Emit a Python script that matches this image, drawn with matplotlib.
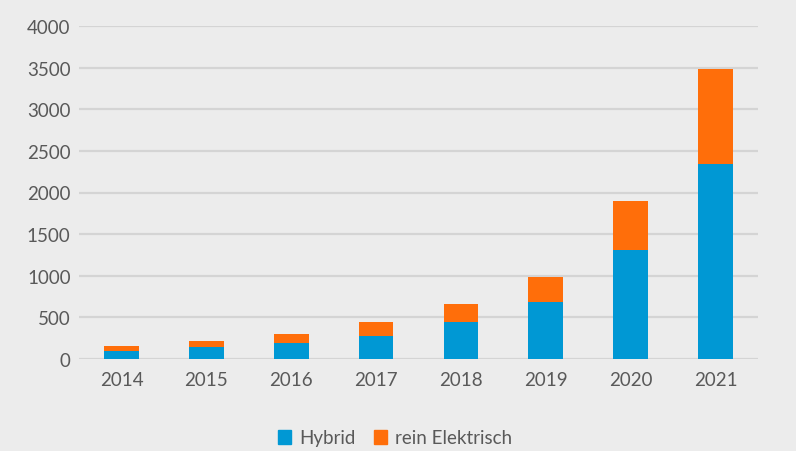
import matplotlib.pyplot as plt
from matplotlib.patches import Patch
import numpy as np

years = ['2014', '2015', '2016', '2017', '2018', '2019', '2020', '2021']
hybrid = [96, 148, 196, 273, 441, 681, 1311, 2338]
elektrisch = [60, 68, 108, 168, 216, 301, 590, 1150]

plt.rcParams['font.family'] = ['Lato', 'DejaVu Sans']

bg = '#ececec'
blue = '#0098d4'
orange = '#ff6e0a'
grid = '#d4d4d4'
txt = '#595959'

fig = plt.figure(figsize=(7.96, 4.52), dpi=100, facecolor=bg)
ax = fig.add_axes([79 / 796, 1 - 360 / 452, 679 / 796, 333 / 452], facecolor=bg)

x = np.arange(len(years))
ax.bar(x, hybrid, width=0.41, color=blue, zorder=3)
ax.bar(x, elektrisch, width=0.41, bottom=hybrid, color=orange, zorder=3)

ax.set_xlim(-0.5, 7.5)
ax.set_ylim(0, 4000)
ax.set_yticks(range(0, 4001, 500))
ax.set_xticks(x, years)
ax.yaxis.grid(True, color=grid, linewidth=1.6, zorder=0)
for s in ax.spines.values():
    s.set_visible(False)
ax.tick_params(axis='both', length=0, labelsize=13.5, labelcolor=txt)
ax.tick_params(axis='y', pad=6)
ax.tick_params(axis='x', pad=9)

handles = [Patch(color=blue, label='Hybrid'), Patch(color=orange, label='rein Elektrisch')]
fig.legend(handles=handles, loc='center', bbox_to_anchor=(395 / 796, 1 - 439 / 452),
           ncol=2, frameon=False, fontsize=13.5, labelcolor=txt,
           handlelength=0.7, handleheight=0.7, handletextpad=0.4, columnspacing=1.0)

fig.savefig('out.png', dpi=100, facecolor=bg)
